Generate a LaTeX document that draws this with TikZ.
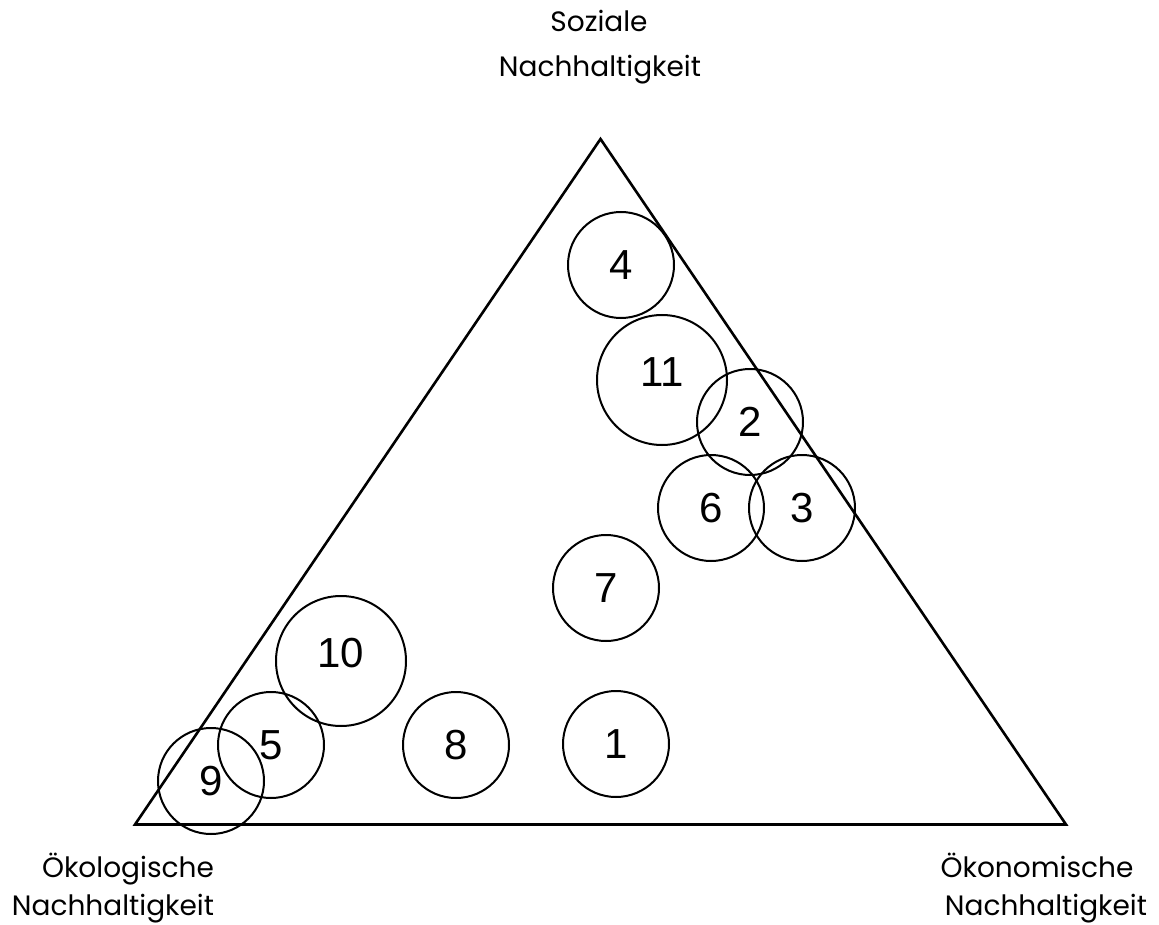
\documentclass[tikz,border=0pt]{standalone}
\usepackage{fontspec}
\setmainfont{Liberation Sans}
\newfontfamily\labelfont{Poppins}
\begin{document}
\begin{tikzpicture}[x=1pt,y=-1pt,
  numfont/.style={font=\fontsize{42}{42}\selectfont},
  blob/.style={draw, circle, line width=2pt, inner sep=0pt, numfont},
  small/.style={blob, minimum size=106pt},
  big/.style={blob, minimum size=130pt},
  num/.style={inner sep=0pt, numfont},
  lbl/.style={anchor=base, inner sep=0pt, font=\labelfont\fontsize{28}{28}\selectfont}]
\useasboundingbox (0,0) rectangle (1159,925);
\coordinate (top) at (600.5,139);
\coordinate (left) at (135,824.5);
\coordinate (right) at (1066,824.5);
\draw[line width=2.6pt, line join=miter] (top) -- (right) -- (left) -- cycle;
\node[small] (c4) at (621,265) {4};
\node[big] (c11) at (662,380) {};
\node[num] (n11) at ([yshift=8pt]c11.center) {11};
\node[small] (c2) at (750,422) {2};
\node[small] (c6) at (711,508) {6};
\node[small] (c3) at (802,508) {3};
\node[small] (c7) at (606,588) {7};
\node[big] (c10) at (341,661) {};
\node[num] (n10) at ([yshift=8pt]c10.center) {10};
\node[small] (c5) at (271,745) {5};
\node[small] (c9) at (211,781) {9};
\node[small] (c8) at (456,745) {8};
\node[small] (c1) at (616,744) {1};
\node[lbl] (soz1) at (599,32) {Soziale};
\node[lbl] (soz2) at (600,77) {Nachhaltigkeit};
\node[lbl] (oek1) at (128,877) {Ökologische};
\node[lbl] (oek2) at (113,915) {Nachhaltigkeit};
\node[lbl] (eco1) at (1037,877) {Ökonomische};
\node[lbl] (eco2) at (1046,915) {Nachhaltigkeit};
\end{tikzpicture}
\end{document}
